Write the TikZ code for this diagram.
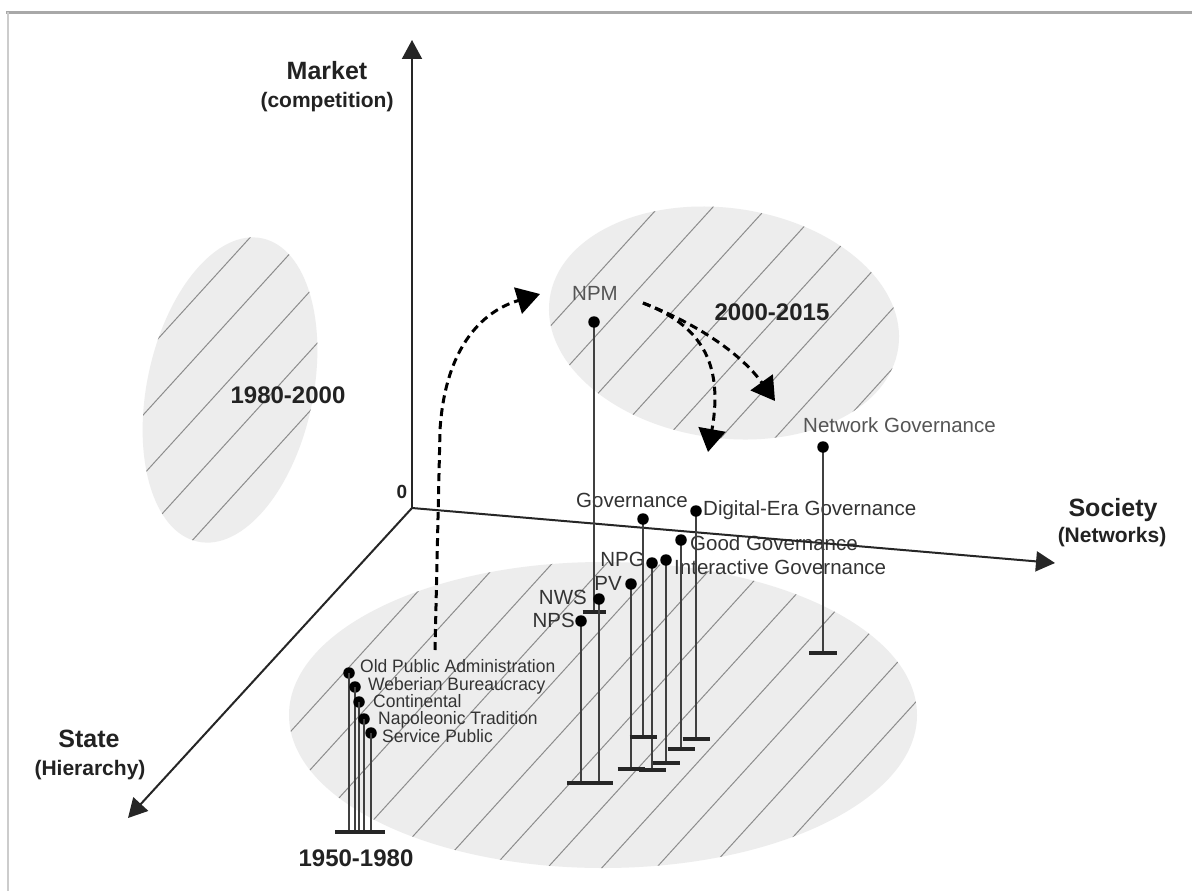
\documentclass[tikz,border=0pt]{standalone}
\usepackage{fontspec}
\setmainfont{Liberation Sans}
\newfontfamily\narrowfont[FakeStretch=0.97]{Liberation Sans}
\usetikzlibrary{arrows.meta}
\definecolor{ellfill}{HTML}{EDEDED}
\definecolor{hatchcol}{HTML}{8C8C8C}
\definecolor{txtdark}{HTML}{222222}
\definecolor{txtmid}{HTML}{333333}
\definecolor{txtlight}{HTML}{555555}
\definecolor{framecol}{HTML}{A8A8A8}
\begin{document}
\begin{tikzpicture}[x=1pt,y=-1pt,
  axisline/.style={draw=black!85, line width=2pt, -{Triangle[length=19pt,width=20pt]}},
  stemline/.style={draw=black!75, line width=1.6pt},
  barline/.style={draw=black!85, line width=3.5pt},
  dotnode/.style={circle, fill=black, inner sep=0pt, minimum size=11.5pt},
  dasharrow/.style={draw=black, line width=3pt, dash pattern=on 8pt off 5pt, -{Triangle[length=23pt,width=27pt]}},
  hatchline/.style={draw=hatchcol, line width=1pt},
  bigl/.style={font=\bfseries\fontsize{25}{25}\selectfont, text=txtdark, inner sep=0pt, text height=18pt, text depth=0pt},
  subl/.style={font=\bfseries\fontsize{21}{21}\selectfont, text=txtdark, inner sep=0pt, text height=15.5pt, text depth=4.5pt},
  periodl/.style={font=\bfseries\fontsize{24}{24}\selectfont, text=txtdark, inner sep=0pt, text height=17pt, text depth=0pt},
  govl/.style={font=\fontsize{20.5}{20.5}\selectfont, text=txtmid, inner sep=0pt, text height=14.7pt, text depth=0pt},
  oldl/.style={font=\narrowfont\fontsize{18}{18}\selectfont, text=txtmid, inner sep=0pt, text height=12.9pt, text depth=0pt, anchor=west},
]
\useasboundingbox (0,0) rectangle (1196,891);
\fill[white] (0,0) rectangle (1196,891);
% frame
\draw[framecol, line width=3pt] (6,12.5) -- (1192,12.5);
\draw[black!20, line width=1.5pt] (8,12) -- (8,891);

% ellipses with hatching
\fill[ellfill, rotate around={-12:(230,390)}] (230,390) ellipse [x radius=83, y radius=155];
\begin{scope}
\clip[rotate around={-12:(230,390)}] (230,390) ellipse [x radius=83, y radius=155];
\foreach \n in {-2,...,24} \draw[hatchline] ({466+54.4*\n-818.2},900) -- ({466+54.4*\n},0);
\end{scope}
\fill[ellfill, rotate around={-8:(724,323)}] (724,323) ellipse [x radius=176, y radius=115];
\begin{scope}
\clip[rotate around={-8:(724,323)}] (724,323) ellipse [x radius=176, y radius=115];
\foreach \n in {-2,...,24} \draw[hatchline] ({466+54.4*\n-818.2},900) -- ({466+54.4*\n},0);
\end{scope}
\fill[ellfill] (603,715) ellipse [x radius=314, y radius=153];
\begin{scope}
\clip (603,715) ellipse [x radius=314, y radius=153];
\foreach \n in {-2,...,26} \draw[hatchline] ({466+54.4*\n-818.2},900) -- ({466+54.4*\n},0);
\end{scope}

% labels
\node[bigl] (market) at (327,71) {Market};
\node[subl] (comp) at (327,102) {(competition)};
\node[bigl] (society) at (1113,507) {Society};
\node[subl] (netw) at (1112,537) {(Networks)};
\node[bigl] (state) at (89,738) {State};
\node[subl] (hier) at (90,770) {(Hierarchy)};
\node[font=\bfseries\fontsize{19}{19}\selectfont, inner sep=0pt, text height=14pt, text depth=0pt, text=txtdark] (zero) at (402,491) {0};
\node[periodl] (p1) at (288,395) {1980-2000};
\node[periodl] (p2) at (772,312) {2000-2015};
\node[periodl] (p3) at (356,858) {1950-1980};

\node[oldl] (topa) at (360,666) {Old Public Administration};
\node[oldl] (tweb) at (368,684) {Weberian Bureaucracy};
\node[oldl] (tcon) at (373,701) {Continental};
\node[oldl] (tnap) at (378,718) {Napoleonic Tradition};
\node[oldl] (tsp) at (382,736) {Service Public};

\node[govl] (tgov) at (632,500) {Governance};
\node[govl, anchor=west] (tdig) at (703,508) {Digital-Era Governance};
\node[govl, anchor=west] (tgood) at (690,543) {Good Governance};
\node[govl, anchor=west] (tint) at (674,567) {Interactive Governance};
\node[govl, anchor=east] (tnpg) at (645,559) {NPG};
\node[govl, anchor=east] (tpv) at (622,583) {PV};
\node[govl, anchor=east] (tnws) at (587,597) {NWS};
\node[govl, anchor=east] (tnps) at (575,620) {NPS};
\node[govl, text=txtlight] (tnpm) at (595,293) {NPM};
\node[govl, anchor=west, text=txtlight] (tnet) at (803,425) {Network Governance};

% axes
\coordinate (O) at (412,508);
\coordinate (mkt) at (412,40);
\coordinate (soc) at (1055,563);
\coordinate (sta) at (128,818);
\draw[axisline] (O) -- (mkt);
\draw[axisline] (O) -- (soc);
\draw[axisline] (O) -- (sta);

% 1950-1980 cluster
\foreach \nm/\x/\y in {opa/349/673, web/355/687, con/359/702, nap/364/719, sp/371/733}{
  \node[dotnode] (\nm) at (\x,\y) {};
  \coordinate (\nm b) at (\x,832);
  \draw[stemline] (\nm.center) -- (\nm b);
}
\coordinate (clL) at (335,832);
\coordinate (clR) at (385,832);
\draw[barline] (clL) -- (clR);

% other stems
\foreach \nm/\x/\y/\yb/\hw in {npm/594/322/612/11.5, nws/599/599/783/14, nps/581/621/783/14, pv/631/584/769/13.5, npg/652/563/770/13.5, gov/643/519/737/13.5, int/666/560/763/13.5, good/681/540/749/13.5, dig/696/511/739/13.5, net/823/447/653/14}{
  \coordinate (\nm b) at (\x,\yb);
  \draw[stemline] (\x,\y) -- (\nm b);
  \draw[barline] ([xshift=-\hw pt]\nm b) -- ([xshift=\hw pt]\nm b);
  \node[dotnode] (\nm) at (\x,\y) {};
}

% dashed arrows
\coordinate (a1s) at (435,650);
\coordinate (a1m) at (440,430);
\coordinate (a1e) at (540,294);
\draw[dasharrow] (a1s) -- (a1m) .. controls (445,350) and (480,312) .. (a1e);
\coordinate (a2s) at (643,303);
\coordinate (a2e) at (775,401);
\coordinate (a3e) at (708,452);
\draw[dasharrow] (a2s) .. controls (700,325) and (742,355) .. (a2e);
\draw[dasharrow] (a2s) .. controls (700,325) and (724,362) .. (a3e);
\end{tikzpicture}
\end{document}
